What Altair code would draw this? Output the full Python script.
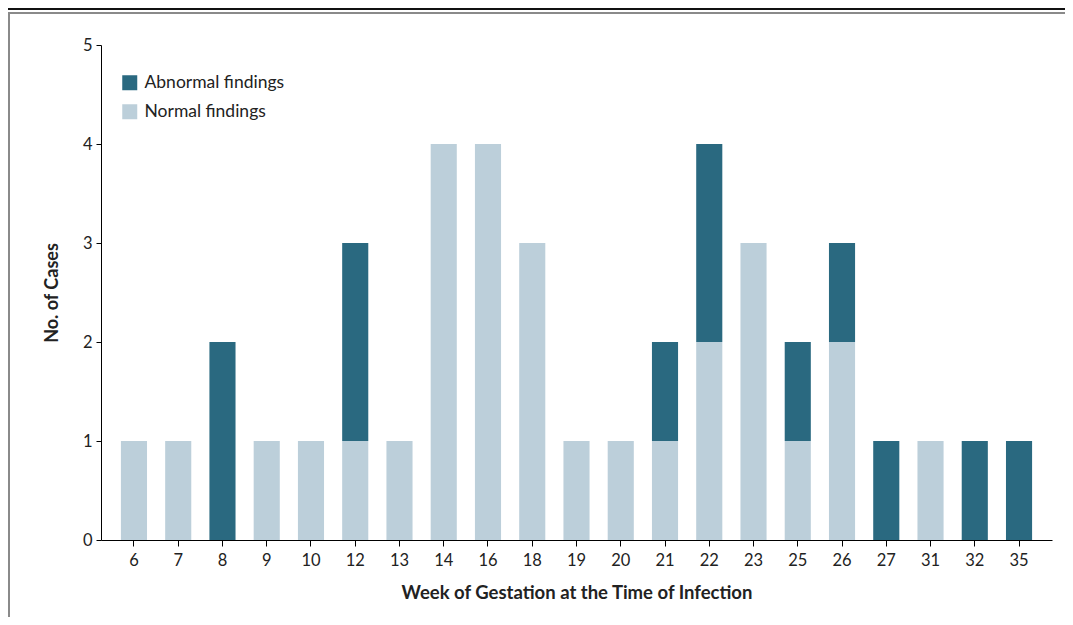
import altair as alt
import pandas as pd

weeks = ["6", "7", "8", "9", "10", "12", "13", "14", "16", "18", "19", "20",
         "21", "22", "23", "25", "26", "27", "31", "32", "35"]
normal = [1, 1, 0, 1, 1, 1, 1, 4, 4, 3, 1, 1, 1, 2, 3, 1, 2, 0, 1, 0, 0]
abnormal = [0, 0, 2, 0, 0, 2, 0, 0, 0, 0, 0, 0, 1, 2, 0, 1, 1, 1, 0, 1, 1]
series = ["Abnormal findings", "Normal findings"]
colors = ["#2a6980", "#bccfda"]

rows = []
for w, n, a in zip(weeks, normal, abnormal):
    rows.append({"week": w, "finding": "Normal findings", "cases": n, "ord": 0})
    rows.append({"week": w, "finding": "Abnormal findings", "cases": a, "ord": 1})
df = pd.DataFrame(rows)

FONT = "Lato"

bars = alt.Chart(df).mark_bar().encode(
    x=alt.X("week:N", sort=weeks,
            scale=alt.Scale(paddingInner=0.41, paddingOuter=0.45),
            axis=alt.Axis(title="Week of Gestation at the Time of Infection",
                          labelAngle=0, tickSize=6, labelPadding=6,
                          titlePadding=15, domainColor="#000", tickColor="#000",
                          labelColor="#222", titleColor="#222",
                          labelFont=FONT, labelFontSize=16.5,
                          titleFont=FONT, titleFontSize=18.5, titleFontWeight="bold")),
    y=alt.Y("cases:Q", stack="zero",
            scale=alt.Scale(domain=[0, 5], nice=False),
            axis=alt.Axis(title="No. of Cases", values=[0, 1, 2, 3, 4, 5],
                          tickSize=5, labelPadding=4, titlePadding=21, grid=False,
                          domainColor="#000", tickColor="#000",
                          labelColor="#222", titleColor="#222",
                          labelFont=FONT, labelFontSize=16.5,
                          titleFont=FONT, titleFontSize=18, titleFontWeight="bold")),
    color=alt.Color("finding:N",
                    scale=alt.Scale(domain=series, range=colors),
                    legend=alt.Legend(title=None, orient="none", legendX=20, legendY=29,
                                      symbolType="square", symbolSize=225,
                                      symbolStrokeWidth=0, rowPadding=10,
                                      labelFont=FONT, labelFontSize=17.5,
                                      labelColor="#222", labelOffset=6)),
    order=alt.Order("ord:Q"),
)

one = alt.Data(values=[{"k": 1}])
top_black = alt.Chart(one).mark_rule(color="#111", strokeWidth=2).encode(
    x=alt.value(-93), x2=alt.value(964), y=alt.value(-36))
top_grey = alt.Chart(one).mark_rule(color="#8a8a8a", strokeWidth=2).encode(
    x=alt.value(-93), x2=alt.value(964), y=alt.value(-32))
left_grey = alt.Chart(one).mark_rule(color="#8a8a8a", strokeWidth=2).encode(
    x=alt.value(-92), y=alt.value(-33), y2=alt.value(572))

chart = alt.layer(bars, top_black, top_grey, left_grey).properties(
    width=951, height=495,
    autosize=alt.AutoSizeParams(type="none"),
    padding={"left": 93, "top": 37, "right": 13, "bottom": 77},
).configure_view(stroke=None)

chart.save("out.html", embed_options={"renderer": "svg", "actions": False})
